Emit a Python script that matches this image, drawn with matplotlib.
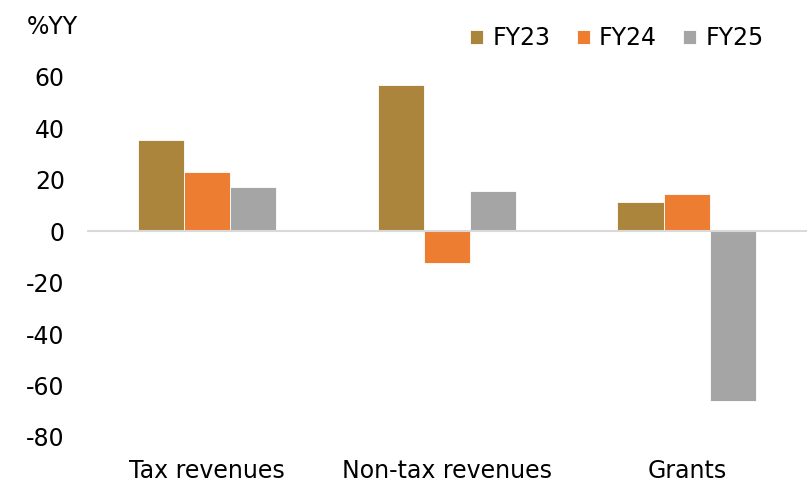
#!/usr/bin/env python3
"""Revenue growth by category, FY23-FY25."""

import matplotlib

matplotlib.use("Agg")
import matplotlib.pyplot as plt
import numpy as np

categories = ["Tax revenues", "Non-tax revenues", "Grants"]
series = ["FY23", "FY24", "FY25"]
fy23 = [35.3, 56.8, 11.3]
fy24 = [22.9, -12.2, 14.4]
fy25 = [17.1, 15.5, -66.0]
yticks = [-80, -60, -40, -20, 0, 20, 40, 60]

colors = ["#AB853C", "#ED7D31", "#A5A5A5"]

plt.rcParams["font.family"] = ["DejaVu Sans"]
plt.rcParams["font.size"] = 17

fig = plt.figure(figsize=(8.08, 4.82), dpi=100)
ax = fig.add_axes([0.1077, 0.0934, 0.891, 0.747])

x = np.arange(len(categories))
width = 0.193
for i, (name, vals, col) in enumerate(zip(series, [fy23, fy24, fy25], colors)):
    ax.bar(x + (i - 1) * width, vals, width, color=col, edgecolor="white",
           linewidth=0.6, label=name, zorder=2)

ax.axhline(0, color="#D9D9D9", linewidth=1.5, zorder=3)
ax.set_xlim(-0.5, len(categories) - 0.5)
ax.set_ylim(-80, 60)
ax.set_yticks(yticks)
ax.set_yticklabels([str(t) for t in yticks])
ax.set_xticks(x)
ax.set_xticklabels(categories)
ax.tick_params(axis="both", length=0, colors="black")
ax.tick_params(axis="y", pad=16)
ax.tick_params(axis="x", pad=16)
for side in ax.spines.values():
    side.set_visible(False)

fig.text(0.033, 0.944, "%YY", ha="left", va="center", fontsize=17)
ax.legend(loc="center right", bbox_to_anchor=(0.94, 1.108), ncol=3, frameon=False,
          handlelength=0.55, handleheight=0.55, handletextpad=0.4, columnspacing=1.1,
          borderaxespad=0, borderpad=0)

fig.savefig("out.png", dpi=100)
